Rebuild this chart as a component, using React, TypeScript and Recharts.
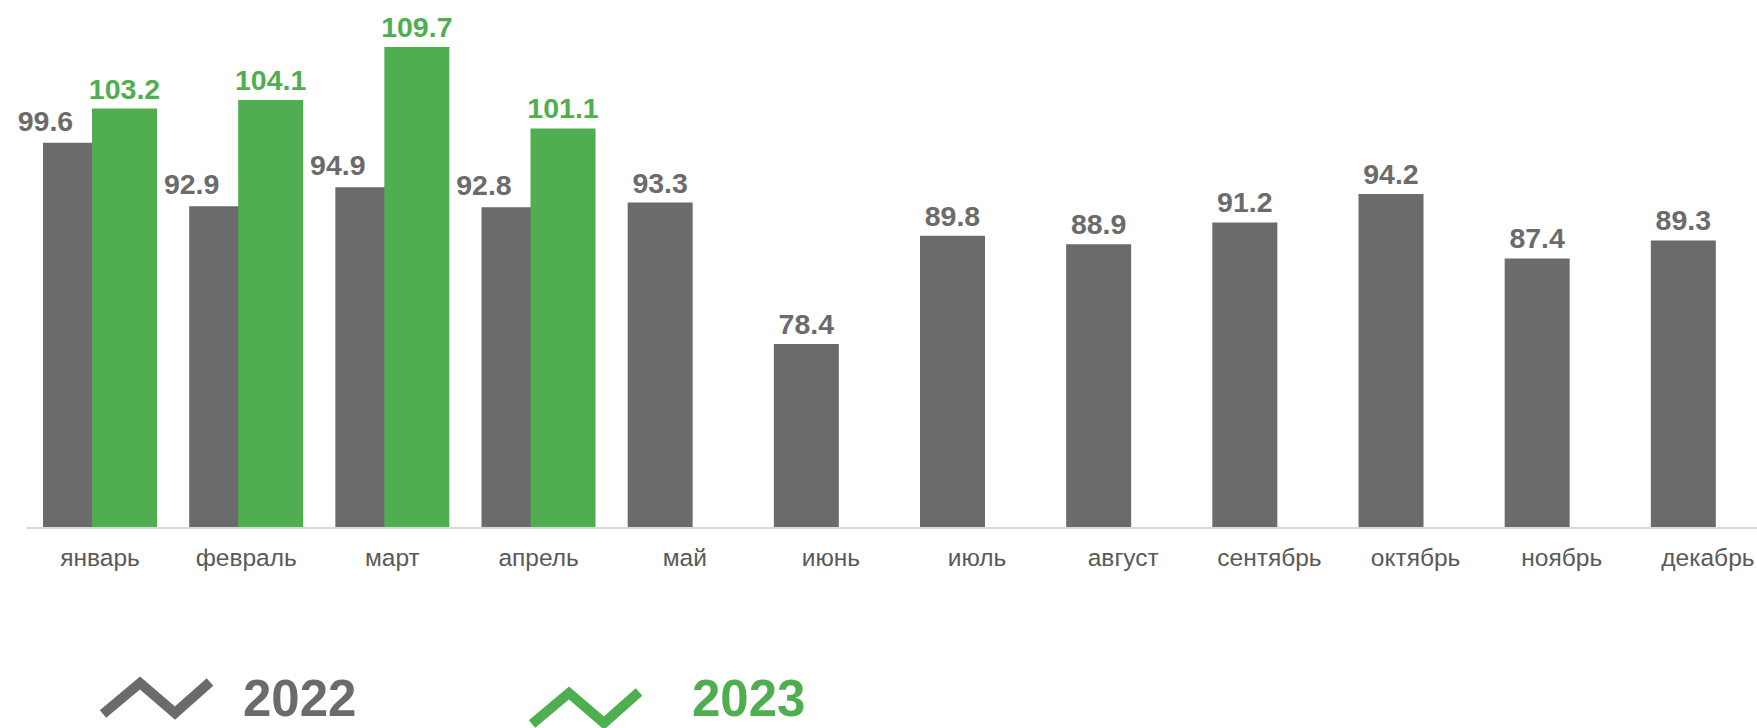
import React from "react";
import { BarChart, Bar, XAxis, YAxis, LabelList } from "recharts";

const months = [
  "январь", "февраль", "март", "апрель", "май", "июнь",
  "июль", "август", "сентябрь", "октябрь", "ноябрь", "декабрь",
];
const values2022 = [99.6, 92.9, 94.9, 92.8, 93.3, 78.4, 89.8, 88.9, 91.2, 94.2, 87.4, 89.3];
const values2023: (number | null)[] = [103.2, 104.1, 109.7, 101.1, null, null, null, null, null, null, null, null];
const seriesNames = ["2022", "2023"];

const GRAY = "#6b6b6b";
const GREEN = "#4fae50";
const FONT = "'Liberation Sans', Arial, sans-serif";

const data = months.map((m, i) => ({ month: m, y2022: values2022[i], y2023: values2023[i] }));

// gray labels get pushed left when a green bar stands next to them
const grayLabel = (props: any) => {
  const { x, y, width, value, index } = props;
  const paired = values2023[index] != null;
  const cx = x + width / 2 + (paired ? -30 : 0);
  const cy = y - (paired ? 12 : 10);
  return (
    <text x={cx} y={cy} textAnchor="middle" fill={GRAY} fontSize={28.5} fontWeight="bold" fontFamily={FONT}>
      {Number(value).toFixed(1)}
    </text>
  );
};

const greenLabel = (props: any) => {
  const { x, y, width, value } = props;
  if (value == null) return null;
  return (
    <text x={x + width / 2} y={y - 10} textAnchor="middle" fill={GREEN} fontSize={28.5} fontWeight="bold" fontFamily={FONT}>
      {Number(value).toFixed(1)}
    </text>
  );
};

export default function App() {
  return (
    <div style={{ position: "absolute", left: 0, top: 0, width: 1757, height: 728, overflow: "hidden", background: "#fff" }}>
      <BarChart
        width={1781}
        height={728}
        data={data}
        margin={{ top: 0, right: 0, left: 27, bottom: 160 }}
        barGap={-16}
      >
        <YAxis hide domain={[59, 114.64]} allowDataOverflow />
        <XAxis
          dataKey="month"
          height={40}
          tickLine={false}
          tickSize={0}
          tickMargin={21}
          axisLine={{ stroke: "#d9d9d9", strokeWidth: 2 }}
          tick={{ fill: "#595959", fontSize: 24.5, fontFamily: FONT }}
          interval={0}
        />
        <Bar dataKey="y2022" name={seriesNames[0]} fill={GRAY} barSize={65} isAnimationActive={false}>
          <LabelList dataKey="y2022" content={grayLabel} />
        </Bar>
        <Bar dataKey="y2023" name={seriesNames[1]} fill={GREEN} barSize={65} isAnimationActive={false}>
          <LabelList dataKey="y2023" content={greenLabel} />
        </Bar>
      </BarChart>
      <svg width={1757} height={728} style={{ position: "absolute", left: 0, top: 0, pointerEvents: "none" }}>
        <polyline points="103,714 140,683 175,713 210,682" fill="none" stroke={GRAY} strokeWidth={10} strokeLinejoin="miter" />
        <text x={243} y={716} fill={GRAY} fontSize={51} fontWeight="bold" fontFamily={FONT}>{seriesNames[0]}</text>
        <polyline points="532,724 569,693 604,723 639,692" fill="none" stroke={GREEN} strokeWidth={10} strokeLinejoin="miter" />
        <text x={692} y={716} fill={GREEN} fontSize={51} fontWeight="bold" fontFamily={FONT}>{seriesNames[1]}</text>
      </svg>
    </div>
  );
}
